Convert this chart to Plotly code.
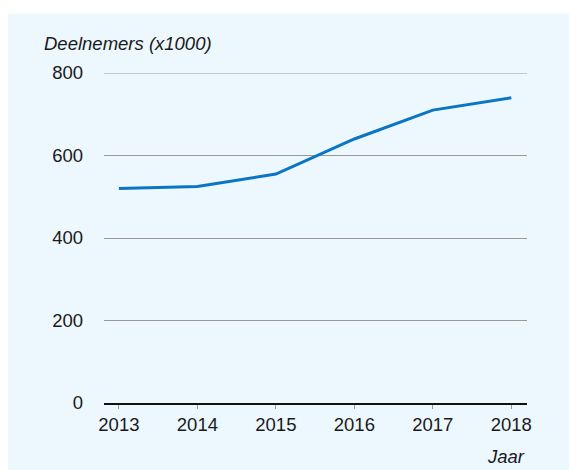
import plotly.graph_objects as go

years = [2013, 2014, 2015, 2016, 2017, 2018]
deelnemers = [520, 525, 555, 640, 710, 740]
y_ticks = [0, 200, 400, 600, 800]
y_title = "Deelnemers (x1000)"
x_title = "Jaar"

W, H = 569, 470
# reference plot area: x 104..527, y 72.5..403
L = 104
R = 569 - 527
T = 72.5
B = 470 - 403
pw = W - L - R
ph = H - T - B

def px_x(p):
    return (p - L) / pw

def px_y(p):
    return (H - B - p) / ph

font = "Liberation Sans, Arial, Helvetica, sans-serif"
fs = 18.5
txt = "#1a1a1a"
panel = "#edf7fe"

fig = go.Figure()
fig.add_trace(go.Scatter(
    x=years, y=deelnemers, mode="lines",
    line=dict(color="#0a75c2", width=3),
    hoverinfo="skip", showlegend=False,
))

fig.update_layout(
    width=W, height=H,
    margin=dict(l=L, r=R, t=T, b=B, pad=0),
    paper_bgcolor="white",
    plot_bgcolor=panel,
    font=dict(family=font, size=fs, color=txt),
    shapes=[
        dict(type="rect", xref="paper", yref="paper", layer="below",
             x0=px_x(8), x1=px_x(580), y0=px_y(480), y1=px_y(13),
             fillcolor=panel, line=dict(width=0)),
        dict(type="line", xref="paper", yref="y", layer="below",
             x0=0, x1=1, y0=800, y1=800,
             line=dict(color="#999999", width=1)),
    ],
    xaxis=dict(
        range=[2012.81, 2018.2],
        tickvals=years, ticktext=[str(y) for y in years],
        showgrid=False, zeroline=False,
        showline=True, linecolor="#111111", linewidth=2,
        ticks="outside", ticklen=4, tickwidth=1, tickcolor="#999999",
        tickfont=dict(size=fs, family=font, color=txt),
        fixedrange=True,
    ),
    yaxis=dict(
        range=[0, 800],
        tickvals=y_ticks,
        showgrid=True, gridcolor="#999999", gridwidth=1,
        zeroline=False, showline=False,
        ticks="", ticklabelstandoff=20,
        tickfont=dict(size=fs, family=font, color=txt),
        fixedrange=True,
    ),
    annotations=[
        dict(text="<i>" + y_title + "</i>", xref="paper", yref="paper",
             x=px_x(42), y=px_y(42.5), xanchor="left", yanchor="middle",
             showarrow=False, font=dict(size=fs, family=font, color=txt)),
        dict(text="<i>" + x_title + "</i>", xref="paper", yref="paper",
             x=px_x(527), y=px_y(457), xanchor="right", yanchor="middle",
             showarrow=False, font=dict(size=fs, family=font, color=txt)),
    ],
)

fig.write_html(
    "out.html",
    config={"displayModeBar": False},
    post_script="document.body.style.margin='0';document.body.style.overflow='hidden';",
)
